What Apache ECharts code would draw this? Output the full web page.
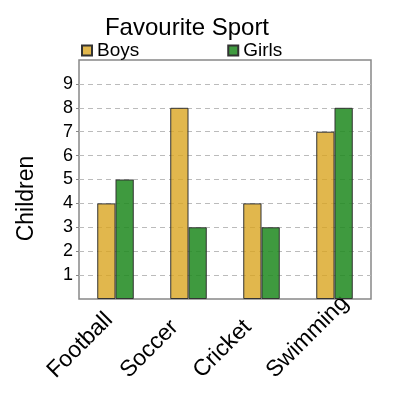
<!DOCTYPE html>
<html>
<head>
<meta charset="utf-8">
<script src="https://cdn.jsdelivr.net/npm/echarts@6/dist/echarts.min.js"></script>
<style>
  html, body { margin: 0; padding: 0; background: #fff; }
  #chart { width: 400px; height: 400px; }
</style>
</head>
<body>
<div id="chart"></div>
<script>
// data
var sports = ['Football', 'Soccer', 'Cricket', 'Swimming'];
var boys = [4, 8, 4, 7];
var girls = [5, 3, 3, 8];
var yTicks = [1, 2, 3, 4, 5, 6, 7, 8, 9];

var myChart = echarts.init(document.getElementById('chart'));
var option = {
    backgroundColor: '#fff',
    textStyle: { fontFamily: 'Liberation Sans, Arial, sans-serif' },
    title: {
        text: 'Favourite Sport',
        left: 187,
        textAlign: 'center',
        top: 16,
        padding: 0,
        textStyle: { fontSize: 24, fontWeight: 'normal', color: '#000' }
    },
    legend: {
        data: ['Boys', 'Girls'],
        left: 81,
        top: 41,
        padding: 0,
        icon: 'rect',
        itemWidth: 10,
        itemHeight: 10,
        itemGap: 88,
        textStyle: { fontSize: 19, color: '#000' }
    },
    grid: {
        left: 79,
        right: 29,
        top: 60,
        bottom: 101,
        show: true,
        borderColor: '#888',
        borderWidth: 1.5
    },
    xAxis: {
        type: 'category',
        data: sports,
        axisLine: { show: false },
        axisTick: { show: false },
        axisLabel: {
            rotate: 45,
            margin: 11,
            interval: 0,
            width: 91,
            overflow: 'none',
            formatter: '{a|{value}}',
            rich: {
                a: { align: 'left', fontSize: 23, color: '#000' }
            }
        }
    },
    yAxis: {
        type: 'value',
        name: 'Children',
        nameLocation: 'middle',
        nameGap: 41,
        nameTextStyle: { fontSize: 23, color: '#000', padding: [0, 38, 0, 0] },
        min: 0,
        max: 10,
        interval: 1,
        axisLine: { show: false },
        axisTick: { show: true, length: 3, customValues: yTicks, lineStyle: { color: '#888' } },
        axisLabel: {
            fontSize: 18,
            color: '#000',
            margin: 6,
            customValues: yTicks
        },
        splitLine: {
            lineStyle: { color: '#bbb', type: [5, 4], width: 1.2 }
        }
    },
    series: [
        {
            name: 'Boys',
            type: 'bar',
            data: boys,
            barGap: '0%',
            barCategoryGap: '50%',
            itemStyle: { color: 'rgba(218,165,32,0.8)', borderColor: '#333', borderWidth: 1 }
        },
        {
            name: 'Girls',
            type: 'bar',
            data: girls,
            itemStyle: { color: 'rgba(34,139,34,0.87)', borderColor: '#333', borderWidth: 1 }
        }
    ]
};
myChart.setOption(option);
</script>
</body>
</html>
